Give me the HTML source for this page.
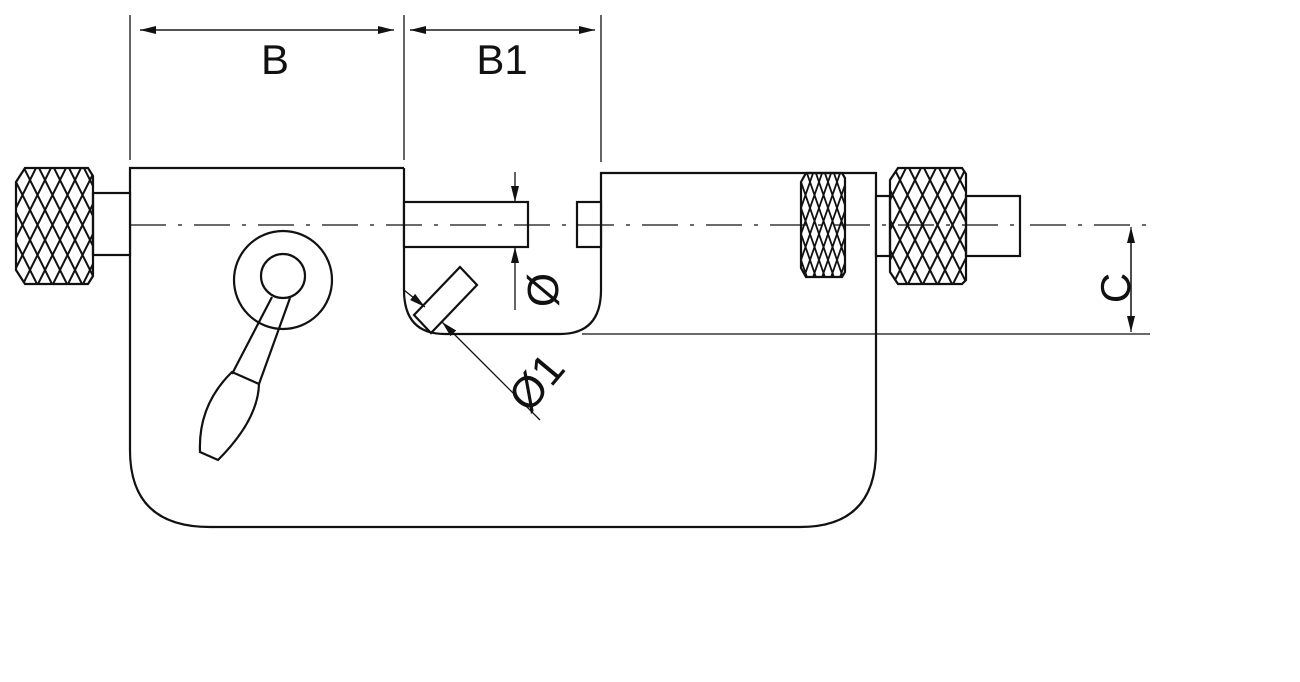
<!DOCTYPE html><html><head><style>body{margin:0;background:#fff}svg{display:block}</style></head><body>
<svg width="1300" height="682" viewBox="0 0 1300 682" xmlns="http://www.w3.org/2000/svg" font-family="Liberation Sans, sans-serif">
<defs>
<pattern id="k" width="15" height="30" patternUnits="userSpaceOnUse"><path d="M0,0L15,30M15,0L0,30" stroke="#111" stroke-width="2"/></pattern>
<pattern id="k2" width="9" height="26" patternUnits="userSpaceOnUse"><path d="M0,0L9,26M9,0L0,26" stroke="#111" stroke-width="1.8"/></pattern>
<marker id="a" markerWidth="16" markerHeight="8" refX="16" refY="4" orient="auto" markerUnits="userSpaceOnUse"><path d="M0,0L16,4L0,8z" fill="#111"/></marker>
</defs>
<g stroke="#111" stroke-width="2.2" fill="none">
<path d="M404,168H130V450Q130,527 210,527H800Q876,527 876,450V173H601V290Q601,334 560,334H445Q404,334 404,290V168" fill="#fff"/>
<rect x="93" y="193" width="37" height="62" fill="#fff"/>
<path d="M25,168H88L93,176V276L88,284H25L16,270V182Z" fill="url(#k)"/>
<rect x="404" y="202" width="124" height="45" fill="#fff"/>
<rect x="577" y="202" width="24" height="45" fill="#fff"/>
<path d="M806,173H842L845,178V272L842,277H806L801,268V182Z" fill="url(#k2)"/>
<rect x="876" y="196" width="14" height="60" fill="#fff"/>
<rect x="966" y="196" width="54" height="60" fill="#fff"/>
<path d="M898,168H962L966,174V280L962,284H898L890,272V180Z" fill="url(#k)"/>
<circle cx="283" cy="280" r="49"/>
<circle cx="283" cy="276" r="22"/>
<path d="M272,297L232,374M290,298L259,384"/>
<path d="M232,372L259,384Q258,420 218,460L200,452Q198,405 232,372Z"/>
<path d="M460,267L477,285L431,333L414,315Z"/>
</g>
<g stroke="#111" stroke-width="1.3" fill="none">
<path d="M130,225H1020M1030,225H1150" stroke-dasharray="36,12,4,12"/>
<path d="M582,334H1150"/>
<path d="M130,15V160M404,15V160M601,15V162"/>
<path d="M394,30H140" marker-end="url(#a)"/>
<path d="M140,30H394" marker-end="url(#a)"/>
<path d="M410,30H595" marker-end="url(#a)"/>
<path d="M595,30H410" marker-end="url(#a)"/>
<path d="M1131,240V332" marker-end="url(#a)"/>
<path d="M1131,320V227" marker-end="url(#a)"/>
<path d="M515,172V202" marker-end="url(#a)"/>
<path d="M515,310V247" marker-end="url(#a)"/>
<path d="M404,290L425,307" marker-end="url(#a)"/>
<path d="M540,420L442,322" marker-end="url(#a)"/>
</g>
<g fill="#111" font-size="42">
<text x="275" y="74" text-anchor="middle">B</text>
<text x="502" y="74" text-anchor="middle">B1</text>
<text transform="translate(1130,288) rotate(-90)" text-anchor="middle">C</text>
<text transform="translate(558,290) rotate(-90)" text-anchor="middle" font-size="44">Ø</text>
<text transform="translate(548,392) rotate(-50)" text-anchor="middle" font-size="44">Ø1</text>
</g>
</svg>
</body></html>
